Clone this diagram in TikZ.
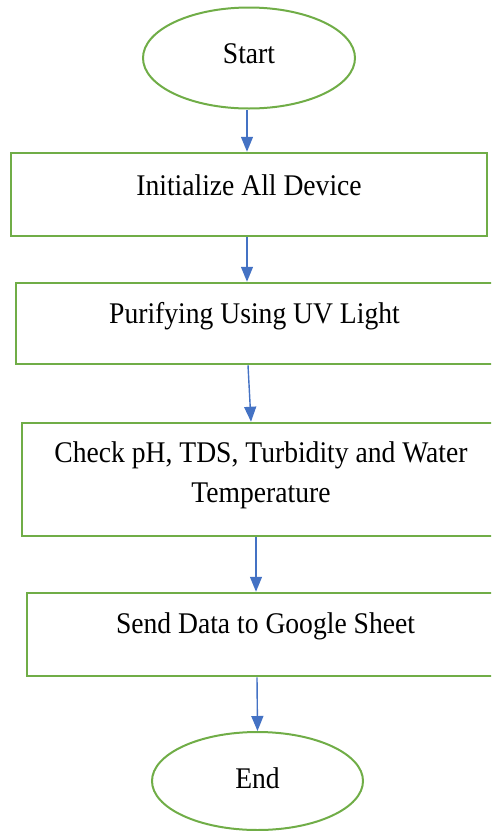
\documentclass[tikz,border=0pt]{standalone}
\usepackage{fontspec}
\setmainfont{Liberation Serif}[FakeStretch=0.92]
\usetikzlibrary{shapes.geometric,arrows.meta}
\definecolor{flowgreen}{RGB}{112,173,71}
\definecolor{flowblue}{RGB}{68,114,196}
\tikzset{
  terminal/.style={ellipse,draw=flowgreen,line width=2pt,inner sep=0pt,minimum width=#1},
  stepbox/.style={rectangle,draw=flowgreen,line width=2.5pt,inner sep=0pt},
  label/.style={font=\fontsize{30}{40}\selectfont,inner sep=0pt,anchor=base},
  flow/.style={draw=flowblue,line width=1.4pt,-{Triangle[length=15pt,width=12pt]}}
}
\begin{document}
\begin{tikzpicture}[x=1pt,y=-1pt]
\useasboundingbox (0,0) rectangle (491,831);
\clip (0,0) rectangle (491,831);

% start / end terminals
\node[terminal=212pt,minimum height=101pt] (start) at (249,58) {};
\node[label] (tstart) at (249,63) {Start};
\node[terminal=211pt,minimum height=98pt] (stop) at (257.5,781) {};
\node[label] (tstop) at (257.5,788) {End};

% process boxes
\node[stepbox,minimum width=476pt,minimum height=83pt] (b1) at (249,194.5) {};
\node[label] (t1) at (249,195) {Initialize All Device};
\node[stepbox,minimum width=477pt,minimum height=81pt] (b2) at (254.5,323.5) {};
\node[label] (t2) at (254.5,323) {Purifying Using UV Light};
\node[stepbox,minimum width=478pt,minimum height=113pt] (b3) at (261,479.5) {};
% the base anchor of a two-line node sits on its last line
\node[label,align=center] (t3) at (261,502) {Check pH, TDS, Turbidity and Water\\Temperature};
\node[stepbox,minimum width=477pt,minimum height=83pt] (b4) at (265.5,634.5) {};
\node[label] (t4) at (265.5,633) {Send Data to Google Sheet};

% connectors
\draw[flow] (start.south -| 247,0) -- (b1.north -| 247,0);
\draw[flow] (b1.south -| 247,0) -- (b2.north -| 247,0);
\draw[flow] (b2.south -| 248,0) -- (b3.north -| 251,0);
\draw[flow] (b3.south -| 256,0) -- (b4.north -| 256,0);
\draw[flow] (b4.south -| 257,0) -- (stop.north);
\end{tikzpicture}
\end{document}
